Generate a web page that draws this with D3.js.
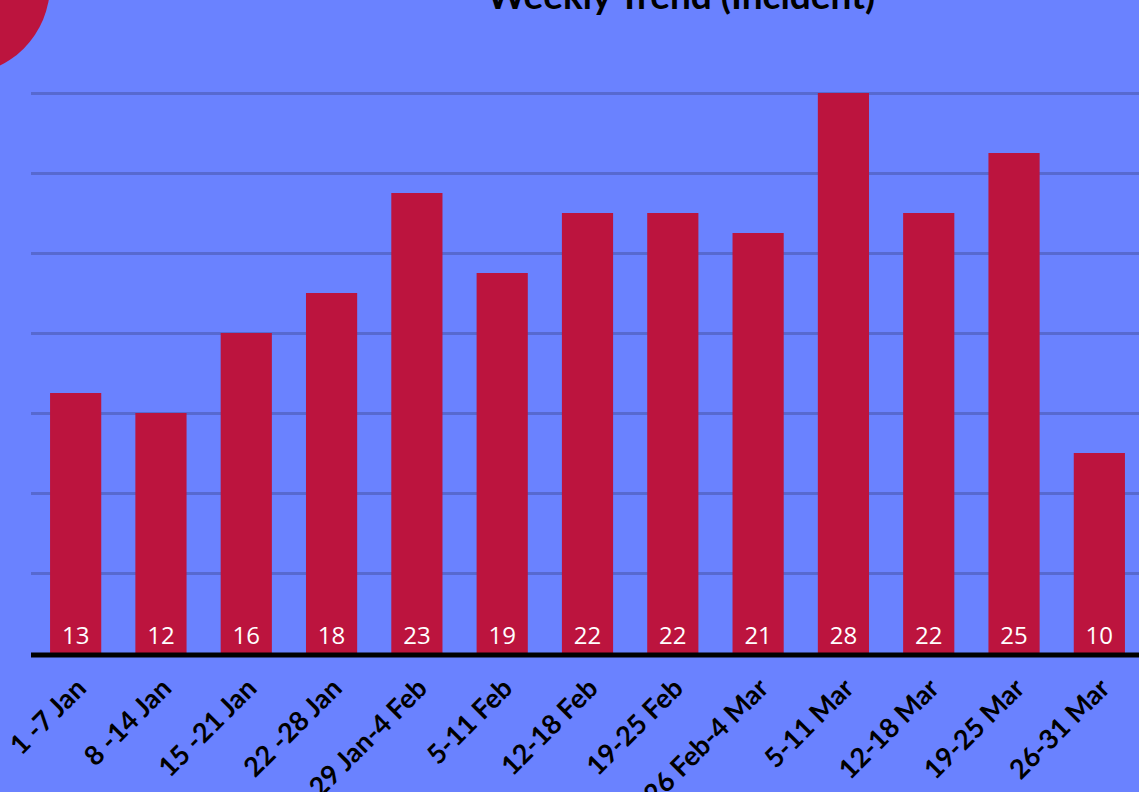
<!DOCTYPE html>
<html>
<head>
<meta charset="utf-8">
<script src="https://cdn.jsdelivr.net/npm/d3@7"></script>
<style>
  html, body { margin: 0; padding: 0; background: #6a82ff; overflow: hidden; }
  svg { display: block; }
</style>
</head>
<body>
<svg id="chart" width="1139" height="792"></svg>
<script>
const categories = ["1 -7 Jan", "8 -14 Jan", "15 -21 Jan", "22 -28 Jan", "29 Jan-4 Feb", "5-11 Feb", "12-18 Feb", "19-25 Feb", "26 Feb-4 Mar", "5-11 Mar", "12-18 Mar", "19-25 Mar", "26-31 Mar"];
const values = [13, 12, 16, 18, 23, 19, 22, 22, 21, 28, 22, 25, 10];
const gridTicks = [4, 8, 12, 16, 20, 24, 28];
const title = "Weekly Trend (Incident)";

const W = 1139, H = 792;
const svg = d3.select("#chart");

svg.append("rect").attr("width", W).attr("height", H).attr("fill", "#6a82ff");

// decorative circle top-left
svg.append("circle").attr("cx", -40).attr("cy", -15).attr("r", 90).attr("fill", "#bc143e");

const x = d3.scaleBand().domain(categories).range([33, 1142]).paddingInner(0.4).paddingOuter(0.2);
const y = d3.scaleLinear().domain([0, 28]).range([653, 93]);

// gridlines
svg.append("g").selectAll("line").data(gridTicks).join("line")
  .attr("x1", 31).attr("x2", W)
  .attr("y1", d => y(d) + 0.5).attr("y2", d => y(d) + 0.5)
  .attr("stroke", "#5769d0").attr("stroke-width", 3);

// bars
svg.append("g").selectAll("rect").data(values).join("rect")
  .attr("x", (d, i) => x(categories[i]))
  .attr("width", x.bandwidth())
  .attr("y", d => y(d))
  .attr("height", d => y(0) - y(d))
  .attr("fill", "#bc143e");

// value labels
svg.append("g").selectAll("text").data(values).join("text")
  .attr("x", (d, i) => x(categories[i]) + x.bandwidth() / 2)
  .attr("y", 644)
  .attr("text-anchor", "middle")
  .attr("fill", "#ffffff")
  .attr("font-family", "'Open Sans', Lato, sans-serif")
  .attr("font-size", 24)
  .text(d => d);

// x axis
const xAxis = d3.axisBottom(x).tickSize(0).tickPadding(0);
const gx = svg.append("g").attr("transform", `translate(0, ${y(0)})`).call(xAxis);
gx.select(".domain").remove();
gx.append("line").attr("x1", 31).attr("x2", W).attr("y1", 2).attr("y2", 2)
  .attr("stroke", "#000").attr("stroke-width", 5);
gx.selectAll(".tick text")
  .attr("font-family", "Lato, 'Open Sans', sans-serif")
  .attr("font-weight", "bold")
  .attr("font-size", 27)
  .attr("fill", "#000")
  .attr("text-anchor", "end")
  .attr("dy", 0)
  .attr("transform", "translate(12, 37) rotate(-45)");

// title
svg.append("text")
  .attr("x", 681).attr("y", 9)
  .attr("text-anchor", "middle")
  .attr("font-family", "Lato, 'Open Sans', sans-serif")
  .attr("font-weight", "bold")
  .attr("font-size", 37)
  .attr("fill", "#000")
  .text(title);
</script>
</body>
</html>
